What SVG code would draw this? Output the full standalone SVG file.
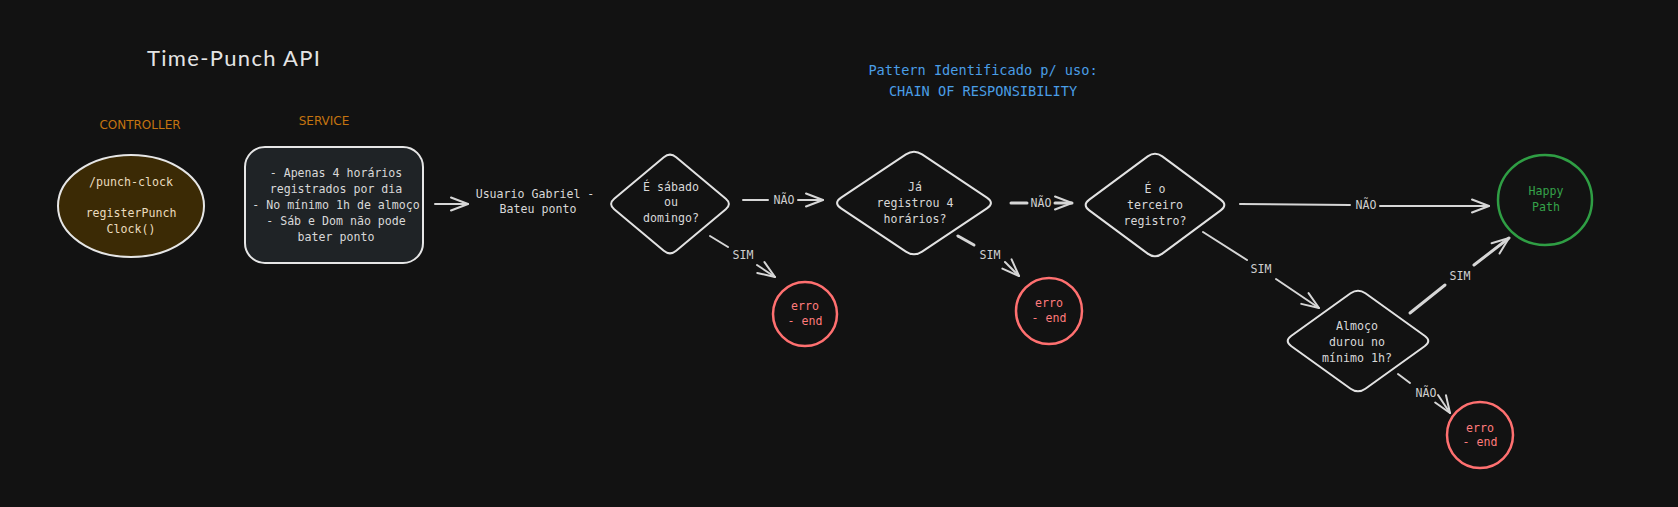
<svg xmlns="http://www.w3.org/2000/svg" width="1678" height="507" viewBox="0 0 1678 507">
<defs>
<style>
.t{font-family:"DejaVu Sans Mono","Liberation Mono",monospace;font-size:11.6px;fill:#d8d8d8;text-anchor:middle}
.lbl{font-family:"DejaVu Sans Mono","Liberation Mono",monospace;font-size:11.6px;fill:#cfcfcf;text-anchor:middle}
.sec{font-family:"DejaVu Sans",sans-serif;font-size:12px;fill:#c47410;text-anchor:middle}
.pat{font-family:"DejaVu Sans Mono","Liberation Mono",monospace;font-size:13.6px;fill:#4a9ee6;text-anchor:middle}
.red{font-family:"DejaVu Sans Mono","Liberation Mono",monospace;font-size:11.6px;fill:#ff7b7b;text-anchor:middle}
.grn{font-family:"DejaVu Sans Mono","Liberation Mono",monospace;font-size:11.6px;fill:#35a34a;text-anchor:middle}
.dia{fill:none;stroke:#e2e2e2;stroke-width:2}
.ln{fill:none;stroke:#d6d6d6;stroke-width:2;stroke-linecap:round}
.thk{stroke-width:3}
.err{fill:none;stroke:#ff7070;stroke-width:2.5}
.ctl{fill:#eadcbf}
</style>
<marker id="ah" viewBox="0 0 20 16" refX="19" refY="8" markerWidth="20" markerHeight="16" markerUnits="userSpaceOnUse" orient="auto">
<path d="M2,1.5 L19,8 L2,14.5" fill="none" stroke="#d6d6d6" stroke-width="2" stroke-linecap="round" stroke-linejoin="round"/>
</marker>
</defs>
<rect width="1678" height="507" fill="#121212"/>

<g id="title">
<text x="147" y="66" font-family="Lato,'Open Sans',sans-serif" font-size="22" fill="#e4e4e4" textLength="173" lengthAdjust="spacing">Time-Punch API</text>
</g>
<g id="label-controller"><text class="sec" x="140" y="129">CONTROLLER</text></g>
<g id="label-service"><text class="sec" x="324" y="125">SERVICE</text></g>
<g id="pattern-note">
<text class="pat" x="983" y="75">Pattern Identificado p/ uso:</text>
<text class="pat" x="983" y="96">CHAIN OF RESPONSIBILITY</text>
</g>

<g id="controller">
<ellipse cx="131" cy="206" rx="73" ry="51" fill="#3b2a05" stroke="#e6e6e6" stroke-width="2"/>
<text class="t ctl" x="131" y="186">/punch-clock</text>
<text class="t ctl" x="131" y="217">registerPunch</text>
<text class="t ctl" x="131" y="233">Clock()</text>
</g>

<g id="service">
<rect x="245" y="147" width="178" height="116" rx="20" fill="#1f2326" stroke="#e6e6e6" stroke-width="2"/>
<text class="t" x="336" y="177">- Apenas 4 horários</text>
<text class="t" x="336" y="193">registrados por dia</text>
<text class="t" x="336" y="209">- No mínimo 1h de almoço</text>
<text class="t" x="336" y="225">- Sáb e Dom não pode</text>
<text class="t" x="336" y="241">bater ponto</text>
</g>

<g id="user">
<text class="t" x="535" y="198">Usuario Gabriel -</text>
<text class="t" x="538" y="213">Bateu ponto</text>
</g>

<g id="d1">
<path class="dia" d="M676.2,157.2 L725.8,198.8 Q732,204 725.8,209.2 L676.2,250.8 Q670,256 663.8,250.8 L614.2,209.2 Q608,204 614.2,198.8 L663.8,157.2 Q670,152 676.2,157.2 Z"/>
<text class="t" x="671" y="191">É sábado</text>
<text class="t" x="671" y="206">ou</text>
<text class="t" x="671" y="222">domingo?</text>
</g>

<g id="d2">
<path class="dia" d="M922.1,154.4 L986.9,197.6 Q995,203 986.9,208.4 L922.1,251.6 Q914,257 905.9,251.6 L841.1,208.4 Q833,203 841.1,197.6 L905.9,154.4 Q914,149 922.1,154.4 Z"/>
<text class="t" x="915" y="191">Já</text>
<text class="t" x="915" y="207">registrou 4</text>
<text class="t" x="915" y="223">horários?</text>
</g>

<g id="d3">
<path class="dia" d="M1162.3,156.4 L1220.7,199.6 Q1228,205 1220.7,210.4 L1162.3,253.6 Q1155,259 1147.7,253.6 L1089.3,210.4 Q1082,205 1089.3,199.6 L1147.7,156.4 Q1155,151 1162.3,156.4 Z"/>
<text class="t" x="1155" y="193">É o</text>
<text class="t" x="1155" y="209">terceiro</text>
<text class="t" x="1155" y="225">registro?</text>
</g>

<g id="d4">
<path class="dia" d="M1365.4,293.3 L1424.6,335.7 Q1432,341 1424.6,346.3 L1365.4,388.7 Q1358,394 1350.6,388.7 L1291.4,346.3 Q1284,341 1291.4,335.7 L1350.6,293.3 Q1358,288 1365.4,293.3 Z"/>
<text class="t" x="1357" y="330">Almoço</text>
<text class="t" x="1357" y="346">durou no</text>
<text class="t" x="1357" y="362">mínimo 1h?</text>
</g>

<g id="erro1">
<circle class="err" cx="805" cy="314" r="32"/>
<text class="red" x="805" y="310">erro</text>
<text class="red" x="805" y="325">- end</text>
</g>
<g id="erro2">
<circle class="err" cx="1049" cy="311" r="33"/>
<text class="red" x="1049" y="307">erro</text>
<text class="red" x="1049" y="322">- end</text>
</g>
<g id="erro3">
<circle class="err" cx="1480" cy="435" r="33"/>
<text class="red" x="1480" y="432">erro</text>
<text class="red" x="1480" y="446">- end</text>
</g>
<g id="happy">
<ellipse cx="1545" cy="200" rx="47" ry="45" fill="none" stroke="#2f9e44" stroke-width="2.5"/>
<text class="grn" x="1546" y="195">Happy</text>
<text class="grn" x="1546" y="211">Path</text>
</g>

<g id="connectors">
<line class="ln" x1="435" y1="204" x2="468" y2="204" marker-end="url(#ah)"/>

<line class="ln" x1="743" y1="200" x2="768" y2="200"/>
<text class="lbl" x="784" y="204">NÃO</text>
<line class="ln" x1="798" y1="200" x2="823" y2="200" marker-end="url(#ah)"/>

<line class="ln" x1="710" y1="236" x2="728" y2="247"/>
<text class="lbl" x="743" y="259">SIM</text>
<line class="ln" x1="757" y1="265" x2="775" y2="277" marker-end="url(#ah)"/>

<line class="ln thk" x1="1011" y1="203" x2="1027" y2="203"/>
<text class="lbl" x="1041" y="207">NÃO</text>
<line class="ln thk" x1="1055" y1="203" x2="1072" y2="203" marker-end="url(#ah)"/>

<line class="ln thk" x1="958" y1="236" x2="974" y2="245"/>
<text class="lbl" x="990" y="259">SIM</text>
<line class="ln" x1="1005" y1="262" x2="1019" y2="276" marker-end="url(#ah)"/>

<line class="ln" x1="1240" y1="204" x2="1350" y2="205"/>
<text class="lbl" x="1366" y="209">NÃO</text>
<line class="ln" x1="1380" y1="206" x2="1489" y2="206" marker-end="url(#ah)"/>

<line class="ln" x1="1203" y1="232" x2="1247" y2="260"/>
<text class="lbl" x="1261" y="273">SIM</text>
<line class="ln" x1="1276" y1="279" x2="1319" y2="308" marker-end="url(#ah)"/>

<line class="ln thk" x1="1410" y1="313" x2="1445" y2="285"/>
<text class="lbl" x="1460" y="280">SIM</text>
<line class="ln thk" x1="1474" y1="265" x2="1509" y2="238" marker-end="url(#ah)"/>

<line class="ln" x1="1398" y1="374" x2="1410" y2="383"/>
<text class="lbl" x="1426" y="397">NÃO</text>
<line class="ln" x1="1438" y1="395" x2="1450" y2="413" marker-end="url(#ah)"/>
</g>
</svg>
